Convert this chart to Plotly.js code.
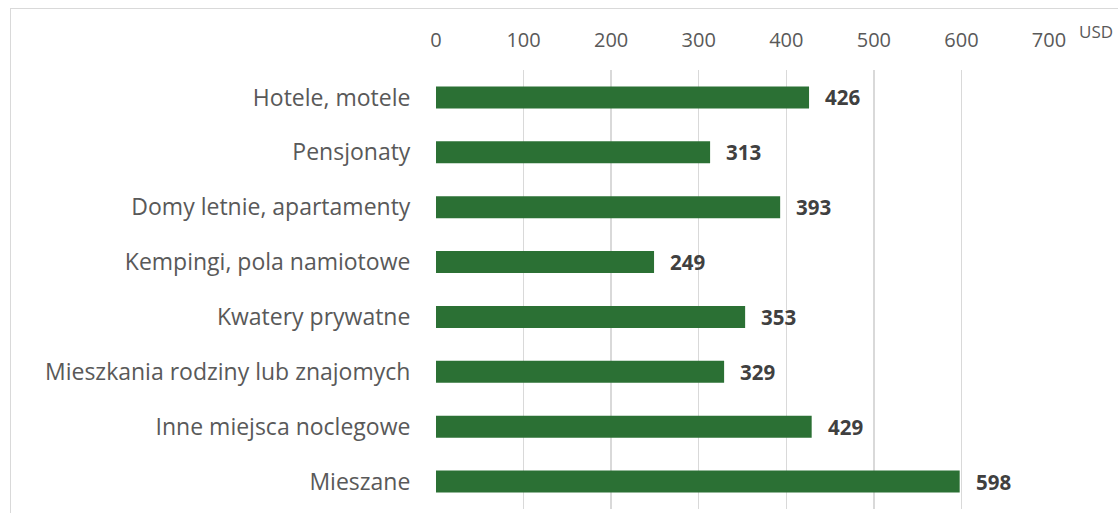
<!DOCTYPE html>
<html>
<head>
<meta charset="utf-8">
<script src="https://cdn.plot.ly/plotly-3.0.1.min.js"></script>
<style>
html,body{margin:0;padding:0;background:#fff;}
#wrap{position:relative;width:1118px;height:513px;overflow:hidden;}
#chart{position:absolute;left:0;top:0;width:1118px;height:513px;}
#frame{position:absolute;left:10px;top:8px;width:1200px;height:600px;border-left:1.5px solid #d9d9d9;border-top:1.5px solid #d9d9d9;pointer-events:none;}
</style>
</head>
<body>
<div id="wrap"><div id="chart"></div><div id="frame"></div></div>
<script>
const categories = ["Hotele, motele","Pensjonaty","Domy letnie, apartamenty","Kempingi, pola namiotowe","Kwatery prywatne","Mieszkania rodziny lub znajomych","Inne miejsca noclegowe","Mieszane"];
const values = [426, 313, 393, 249, 353, 329, 429, 598];
const tickVals = [0,100,200,300,400,500,600,700];
const unitLabel = "USD";

const trace = {
  type: 'bar',
  orientation: 'h',
  y: categories,
  x: values,
  marker: {color: '#2b7034'},
  hoverinfo: 'none'
};

const annotations = values.map((v,i)=>({
  x: v, y: categories[i], xref:'x', yref:'y',
  text: '<b>'+v+'</b>', showarrow:false, xanchor:'left', xshift:14,
  font:{family:'Open Sans, sans-serif', size:20.5, color:'#404040'}
}));
annotations.push({
  x: 1, y: 1, xref:'paper', yref:'paper', text: unitLabel, showarrow:false,
  xanchor:'left', yanchor:'bottom', xshift:28, yshift:25,
  font:{family:'Open Sans, sans-serif', size:17, color:'#595959'}
});

const layout = {
  width: 1118, height: 513,
  margin: {l:436, r:69, t:70, b:4},
  paper_bgcolor:'rgba(0,0,0,0)', plot_bgcolor:'#fff',
  bargap: 0.6,
  showlegend:false,
  xaxis: {
    side:'top', range:[0,700], tickvals:tickVals, showgrid:true,
    gridcolor:'#d9d9d9', gridwidth:1.5, zeroline:false,
    ticks:'outside', ticklen:14, tickcolor:'rgba(0,0,0,0)',
    tickfont:{family:'Open Sans, sans-serif', size:20, color:'#595959'},
    showline:false, fixedrange:true
  },
  yaxis: {
    autorange:'reversed', type:'category',
    ticks:'outside', ticklen:20, tickcolor:'rgba(0,0,0,0)',
    tickfont:{family:'Open Sans, sans-serif', size:23, color:'#595959'},
    showgrid:false, zeroline:false, showline:false, fixedrange:true
  },
  annotations: annotations
};

Plotly.newPlot('chart',[trace],layout,{displayModeBar:false, staticPlot:true});
</script>
</body>
</html>
